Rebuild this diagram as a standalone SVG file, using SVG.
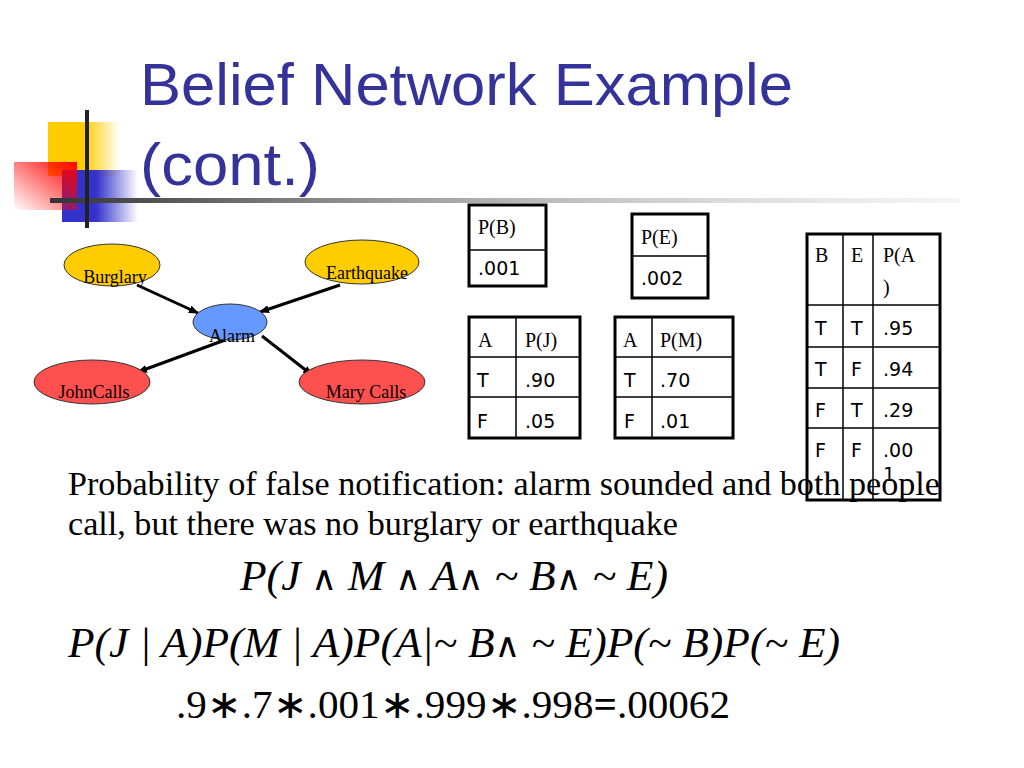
<svg xmlns="http://www.w3.org/2000/svg" width="1024" height="768" viewBox="0 0 1024 768">
<defs>
<linearGradient id="gy" x1="0" y1="0" x2="1" y2="0"><stop offset="0" stop-color="#FFCC00"/><stop offset="0.5" stop-color="#FFCC00"/><stop offset="1" stop-color="#FFCC00" stop-opacity="0"/></linearGradient>
<linearGradient id="gr" x1="1" y1="0" x2="0" y2="1"><stop offset="0" stop-color="#FF0000"/><stop offset="1" stop-color="#FF0000" stop-opacity="0"/></linearGradient>
<linearGradient id="gb" x1="0" y1="0" x2="1" y2="0"><stop offset="0" stop-color="#3333CC"/><stop offset="0.45" stop-color="#3333CC"/><stop offset="1" stop-color="#3333CC" stop-opacity="0"/></linearGradient>
<linearGradient id="gl" x1="0" y1="0" x2="1" y2="0"><stop offset="0" stop-color="#333333"/><stop offset="0.3" stop-color="#888888"/><stop offset="1" stop-color="#dddddd" stop-opacity="0.3"/></linearGradient>
<marker id="ah" markerWidth="10" markerHeight="8" refX="9" refY="4" orient="auto" markerUnits="userSpaceOnUse"><path d="M0,0 L10,4 L0,8 Z" fill="#000"/></marker>
<style>
.title{font-family:"Liberation Sans","DejaVu Sans",sans-serif;font-size:60px;fill:#333399}
.lbl{font-family:"Liberation Serif",serif;font-size:18px;fill:#000;text-anchor:middle}
.tb{fill:#fff;stroke:#000;stroke-width:3}
.grid{stroke:#000;stroke-width:1.5}
.th{font-family:"Liberation Serif",serif;font-size:20px;fill:#000}
.td{font-family:"DejaVu Sans","Liberation Sans",sans-serif;font-size:19px;fill:#000}
.body{font-family:"Liberation Serif",serif;font-size:33px;fill:#000}
.math{font-family:"Liberation Serif",serif;font-size:42px;font-style:italic;fill:#000}
.mathn{font-family:"Liberation Serif",serif;font-size:40px;fill:#000}
.op{font-family:"DejaVu Sans",sans-serif;font-style:normal;font-size:34px}
.eq{font-weight:bold}
.edge{stroke:#000;stroke-width:3;fill:none;marker-end:url(#ah)}
</style>
</defs>
<rect width="1024" height="768" fill="#fff"/>
<g id="decoration">
<rect x="48" y="122" width="72" height="54" fill="url(#gy)"/>
<rect x="62" y="170" width="76" height="52" fill="url(#gb)"/>
<rect x="14" y="162" width="63" height="48" fill="url(#gr)"/>
<rect x="50" y="198" width="910" height="5" fill="url(#gl)"/>
<rect x="85" y="110" width="4" height="118" fill="#222"/>
</g>
<text class="title" x="140" y="105" textLength="653" lengthAdjust="spacingAndGlyphs">Belief Network Example</text>
<text class="title" x="140" y="185" textLength="180" lengthAdjust="spacingAndGlyphs">(cont.)</text>
<g id="connectors">
<line class="edge" x1="137" y1="285" x2="198" y2="313"/>
<line class="edge" x1="340" y1="285" x2="260" y2="312"/>
<line class="edge" x1="225" y1="340" x2="138" y2="372"/>
<line class="edge" x1="262" y1="336" x2="312" y2="375"/>
</g>
<g id="burglary"><ellipse cx="112" cy="265" rx="48" ry="21" fill="#FFCC00" stroke="#333" stroke-width="1"/><text class="lbl" x="115" y="283">Burglary</text></g>
<g id="earthquake"><ellipse cx="362" cy="262" rx="57" ry="22" fill="#FFCC00" stroke="#333" stroke-width="1"/><text class="lbl" x="367" y="279">Earthquake</text></g>
<g id="alarm"><ellipse cx="230" cy="322" rx="37" ry="18" fill="#6699FF" stroke="#333" stroke-width="1"/><text class="lbl" x="232" y="342">Alarm</text></g>
<g id="johncalls"><ellipse cx="92" cy="382" rx="58" ry="22" fill="#FF5050" stroke="#333" stroke-width="1"/><text class="lbl" x="94" y="398">JohnCalls</text></g>
<g id="marycalls"><ellipse cx="362" cy="382" rx="63" ry="22" fill="#FF5050" stroke="#333" stroke-width="1"/><text class="lbl" x="366" y="398">Mary Calls</text></g>
<g id="tableB">
<rect class="tb" x="469" y="205" width="77" height="81"/>
<line class="grid" x1="469" y1="250" x2="546" y2="250"/>
<text class="th" x="478" y="234">P(B)</text>
<text class="td" x="478" y="275">.001</text>
</g>
<g id="tableE">
<rect class="tb" x="632" y="214" width="76" height="84"/>
<line class="grid" x1="632" y1="256" x2="708" y2="256"/>
<text class="th" x="641" y="244">P(E)</text>
<text class="td" x="641" y="285">.002</text>
</g>
<g id="tableJ">
<rect class="tb" x="469" y="317" width="111" height="121"/>
<line class="grid" x1="516" y1="317" x2="516" y2="438"/>
<line class="grid" x1="469" y1="357" x2="580" y2="357"/>
<line class="grid" x1="469" y1="397" x2="580" y2="397"/>
<text class="th" x="478" y="347">A</text><text class="th" x="525" y="347">P(J)</text>
<text class="td" x="477" y="387">T</text><text class="td" x="525" y="387">.90</text>
<text class="td" x="477" y="428">F</text><text class="td" x="525" y="428">.05</text>
</g>
<g id="tableM">
<rect class="tb" x="615" y="317" width="118" height="121"/>
<line class="grid" x1="652" y1="317" x2="652" y2="438"/>
<line class="grid" x1="615" y1="357" x2="733" y2="357"/>
<line class="grid" x1="615" y1="397" x2="733" y2="397"/>
<text class="th" x="623" y="347">A</text><text class="th" x="660" y="347">P(M)</text>
<text class="td" x="624" y="387">T</text><text class="td" x="660" y="387">.70</text>
<text class="td" x="624" y="428">F</text><text class="td" x="660" y="428">.01</text>
</g>
<g id="tableA">
<rect class="tb" x="807" y="234" width="133" height="266"/>
<line class="grid" x1="843" y1="234" x2="843" y2="500"/>
<line class="grid" x1="873" y1="234" x2="873" y2="500"/>
<line class="grid" x1="807" y1="305" x2="940" y2="305"/>
<line class="grid" x1="807" y1="347" x2="940" y2="347"/>
<line class="grid" x1="807" y1="388" x2="940" y2="388"/>
<line class="grid" x1="807" y1="428" x2="940" y2="428"/>
<text class="th" x="815" y="262">B</text><text class="th" x="851" y="262">E</text><text class="th" x="883" y="262">P(A</text><text class="th" x="883" y="294">)</text>
<text class="td" x="815" y="335">T</text><text class="td" x="851" y="335">T</text><text class="td" x="883" y="335">.95</text>
<text class="td" x="815" y="376">T</text><text class="td" x="851" y="376">F</text><text class="td" x="883" y="376">.94</text>
<text class="td" x="815" y="417">F</text><text class="td" x="851" y="417">T</text><text class="td" x="883" y="417">.29</text>
<text class="td" x="815" y="457">F</text><text class="td" x="851" y="457">F</text><text class="td" x="883" y="457">.00</text>
<text class="td" x="883" y="481">1</text>
</g>
<text class="body" x="68" y="495" textLength="872" lengthAdjust="spacingAndGlyphs">Probability of false notification: alarm sounded and both people</text>
<text class="body" x="68" y="535" textLength="610" lengthAdjust="spacingAndGlyphs">call, but there was no burglary or earthquake</text>
<text class="math" x="240" y="590" textLength="428" lengthAdjust="spacingAndGlyphs">P(J <tspan class="op">∧</tspan> M <tspan class="op">∧</tspan> A<tspan class="op">∧</tspan> ~ B<tspan class="op">∧</tspan> ~ E)</text>
<text class="math" x="68" y="657" textLength="772" lengthAdjust="spacingAndGlyphs">P(J | A)P(M | A)P(A|~ B<tspan class="op">∧</tspan> ~ E)P(~ B)P(~ E)</text>
<text class="mathn" x="176" y="718" textLength="554" lengthAdjust="spacingAndGlyphs">.9∗.7∗.001∗.999∗.998<tspan class="eq">=</tspan>.00062</text>
</svg>
